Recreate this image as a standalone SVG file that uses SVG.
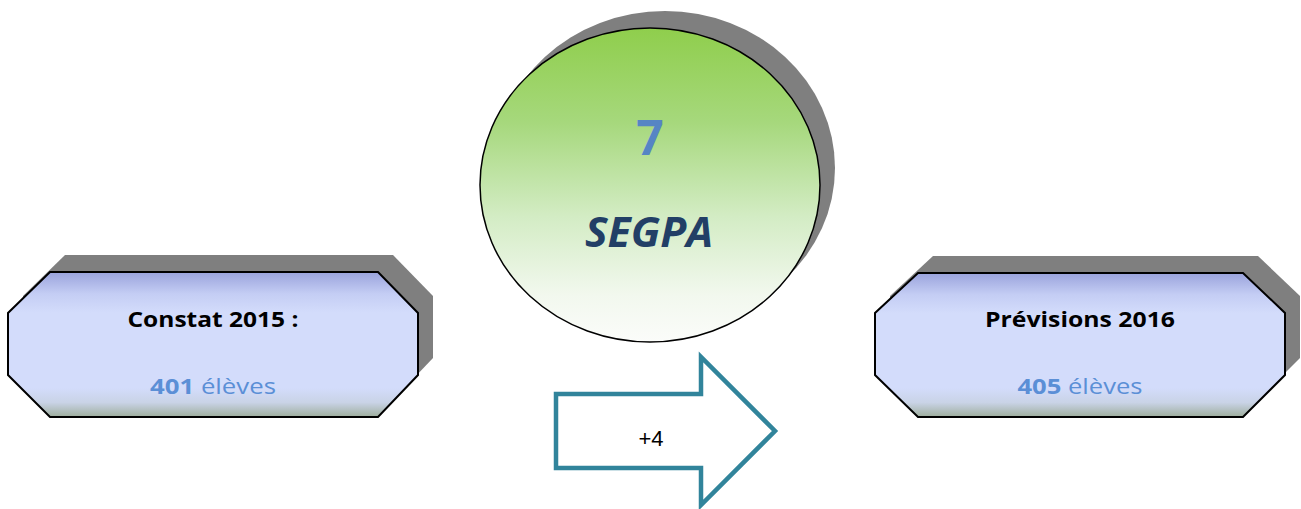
<svg xmlns="http://www.w3.org/2000/svg" width="1301" height="509" viewBox="0 0 1301 509">
  <defs>
    <linearGradient id="boxGrad" x1="0" y1="0" x2="0" y2="1">
      <stop offset="0" stop-color="#9aa3dc"/>
      <stop offset="0.15" stop-color="#c4cdf4"/>
      <stop offset="0.28" stop-color="#d3dcfb"/>
      <stop offset="0.8" stop-color="#d3dcfb"/>
      <stop offset="0.9" stop-color="#c9d3e6"/>
      <stop offset="1" stop-color="#9eae9d"/>
    </linearGradient>
    <linearGradient id="circGrad" x1="0" y1="0" x2="0" y2="1">
      <stop offset="0" stop-color="#8fce4c"/>
      <stop offset="0.3" stop-color="#a6d87c"/>
      <stop offset="0.6" stop-color="#d3ecc4"/>
      <stop offset="0.85" stop-color="#f2f8ee"/>
      <stop offset="1" stop-color="#fbfcfa"/>
    </linearGradient>
  </defs>
  <style>
    .shadow { fill: #7f7f7f; }
    .box { fill: url(#boxGrad); stroke: #000; stroke-width: 2; }
    .title { font-family: "Open Sans", "Liberation Sans", sans-serif; font-weight: bold; font-size: 21px; fill: #000; text-anchor: middle; }
    .count { font-family: "Open Sans", "Liberation Sans", sans-serif; font-size: 21px; fill: #5b8fd6; text-anchor: middle; }
    .count .num { font-weight: bold; }
  </style>
  <rect width="1301" height="509" fill="#ffffff"/>

  <g id="constat2015">
    <polygon class="shadow" points="65,255 393,255 433,296 433,358 393,400 65,400 23,358 23,296"/>
    <polygon class="box" points="50,272 378,272 418,313 418,375 378,417 50,417 8,375 8,313"/>
    <text class="title" x="213" y="327" textLength="171" lengthAdjust="spacingAndGlyphs">Constat 2015 :</text>
    <text class="count" x="213" y="394" textLength="126" lengthAdjust="spacingAndGlyphs"><tspan class="num">401</tspan> élèves</text>
  </g>

  <g id="previsions2016">
    <polygon class="shadow" points="933,256 1258,256 1300,296 1300,358 1258,400 933,400 890,358 890,296"/>
    <polygon class="box" points="918,273 1243,273 1285,313 1285,375 1243,417 918,417 875,375 875,313"/>
    <text class="title" x="1080" y="327" textLength="190" lengthAdjust="spacingAndGlyphs">Prévisions 2016</text>
    <text class="count" x="1080" y="394" textLength="125" lengthAdjust="spacingAndGlyphs"><tspan class="num">405</tspan> élèves</text>
  </g>

  <g id="segpa">
    <ellipse class="shadow" cx="665" cy="168" rx="170" ry="157"/>
    <ellipse cx="650" cy="185" rx="170" ry="157" fill="url(#circGrad)" stroke="#000" stroke-width="1.5"/>
    <text x="650" y="155" font-family="Open Sans, Liberation Sans, sans-serif" font-weight="bold" font-size="48" fill="#5685c4" text-anchor="middle">7</text>
    <text x="649" y="247" font-family="Open Sans, Liberation Sans, sans-serif" font-weight="bold" font-style="italic" font-size="41" fill="#223f66" text-anchor="middle" textLength="128" lengthAdjust="spacingAndGlyphs">SEGPA</text>
  </g>

  <g id="connectors">
    <g id="arrow">
      <polygon points="556,394 701,394 701,357 775,431 701,505 701,468 556,468" fill="#ffffff" stroke="#31849b" stroke-width="4.5"/>
      <text x="651" y="446" font-family="Liberation Sans, Arial, sans-serif" font-size="22" fill="#000" text-anchor="middle">+4</text>
    </g>
  </g>
</svg>
